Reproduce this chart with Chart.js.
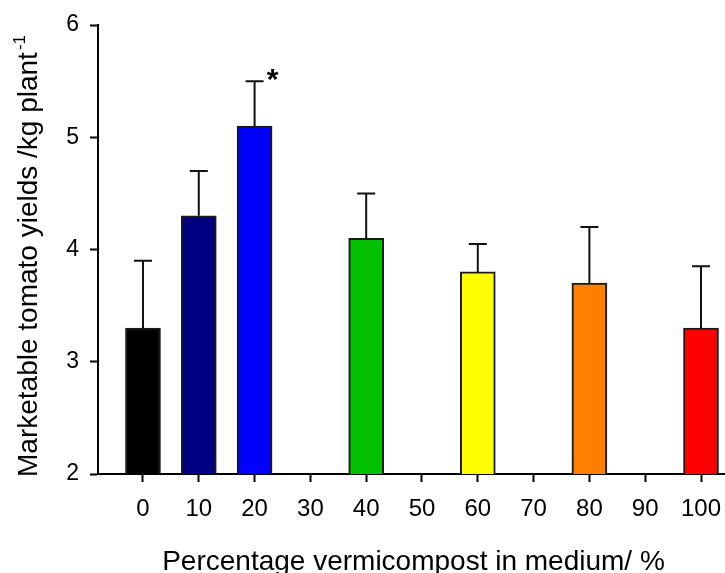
<!DOCTYPE html>
<html>
<head>
<meta charset="utf-8">
<script src="https://cdn.jsdelivr.net/npm/chart.js@4/dist/chart.umd.min.js"></script>
<style>
  html, body { margin: 0; padding: 0; background: #ffffff; }
  canvas { display: block; }
</style>
</head>
<body>
<canvas id="chart" width="725" height="573"></canvas>
<script>
// Vermicompost share in the growing medium (%) and marketable yield (kg per plant)
const percentages = [0, 10, 20, 40, 60, 80, 100];
const yields = [3.3, 4.3, 5.1, 4.1, 3.8, 3.7, 3.3];
const errors = [0.6, 0.4, 0.4, 0.4, 0.25, 0.5, 0.55];
const significance = ['', '', '*', '', '', '', ''];
const barColors = ['#000000', '#000080', '#0000ff', '#00c000', '#ffff00', '#ff8000', '#ff0000'];
const xTickValues = [0, 10, 20, 30, 40, 50, 60, 70, 80, 90, 100];
const yTickValues = [2, 3, 4, 5, 6];
const xTitle = 'Percentage vermicompost in medium/ %';
const yTitle = 'Marketable tomato yields /kg plant';
const yTitleSup = '-1';

const FONT = "'Liberation Sans', Arial, Helvetica, sans-serif";

// Error bars (upper whisker only) and significance markers
const errorBarPlugin = {
  id: 'errorBars',
  afterDatasetsDraw(chart) {
    const ctx = chart.ctx;
    const y = chart.scales.y;
    const meta = chart.getDatasetMeta(0);
    ctx.save();
    ctx.strokeStyle = '#111111';
    ctx.lineWidth = 2;
    meta.data.forEach((bar, i) => {
      const top = y.getPixelForValue(yields[i] + errors[i]);
      ctx.beginPath();
      ctx.moveTo(bar.x, bar.y);
      ctx.lineTo(bar.x, top);
      ctx.moveTo(bar.x - 9, top);
      ctx.lineTo(bar.x + 9, top);
      ctx.stroke();
      if (significance[i]) {
        ctx.fillStyle = '#000000';
        ctx.font = 'bold 30px ' + FONT;
        ctx.textAlign = 'center';
        ctx.textBaseline = 'alphabetic';
        ctx.fillText(significance[i], bar.x + 18, top + 8);
      }
    });
    ctx.restore();
  }
};

// Axis titles, the y title carrying a superscript unit exponent
const axisTitlePlugin = {
  id: 'axisTitles',
  afterDraw(chart) {
    const ctx = chart.ctx;
    const area = chart.chartArea;
    ctx.save();
    ctx.fillStyle = '#000000';
    ctx.textBaseline = 'alphabetic';

    ctx.font = '28px ' + FONT;
    ctx.textAlign = 'center';
    ctx.fillText(xTitle, (area.left + area.right) / 2 + 2, 570);

    ctx.translate(37, 477);
    ctx.rotate(-Math.PI / 2);
    ctx.textAlign = 'left';
    ctx.font = '28px ' + FONT;
    ctx.fillText(yTitle, 0, 0);
    const w = ctx.measureText(yTitle).width;
    ctx.font = '17px ' + FONT;
    ctx.fillText(yTitleSup, w + 2, -12);
    ctx.restore();
  }
};

new Chart(document.getElementById('chart'), {
  type: 'bar',
  data: {
    datasets: [{
      data: percentages.map((p, i) => ({ x: p, y: yields[i] })),
      backgroundColor: barColors,
      borderColor: '#1a1a1a',
      borderWidth: 2,
      borderSkipped: false,
      barThickness: 35
    }]
  },
  options: {
    responsive: false,
    animation: false,
    devicePixelRatio: 1,
    layout: { padding: { top: 25, right: 0, bottom: 0, left: 0 } },
    plugins: { legend: { display: false }, tooltip: { enabled: false } },
    scales: {
      x: {
        type: 'linear',
        offset: false,
        min: -8.06,
        max: 104.3,
        grid: { offset: false, drawOnChartArea: false, drawTicks: true, tickLength: 8, tickWidth: 2, tickColor: '#000000' },
        border: { display: true, color: '#000000', width: 2 },
        ticks: {
          color: '#000000',
          font: { family: FONT, size: 24 },
          padding: 13,
          maxRotation: 0,
          callback: v => String(v)
        },
        afterBuildTicks: s => { s.ticks = xTickValues.map(v => ({ value: v })); },
        afterFit: s => { s.height = 99; s.paddingLeft = 0; s.paddingRight = 0; }
      },
      y: {
        type: 'linear',
        min: 2,
        max: 6,
        grid: { drawOnChartArea: false, drawTicks: true, tickLength: 8, tickWidth: 2, tickColor: '#000000' },
        border: { display: true, color: '#000000', width: 2 },
        ticks: {
          color: '#000000',
          font: { family: FONT, size: 23 },
          padding: 11,
          callback: v => String(v)
        },
        afterBuildTicks: s => { s.ticks = yTickValues.map(v => ({ value: v })); },
        afterFit: s => { s.width = 98; s.paddingTop = 0; s.paddingBottom = 0; }
      }
    }
  },
  plugins: [errorBarPlugin, axisTitlePlugin]
});
</script>
</body>
</html>
